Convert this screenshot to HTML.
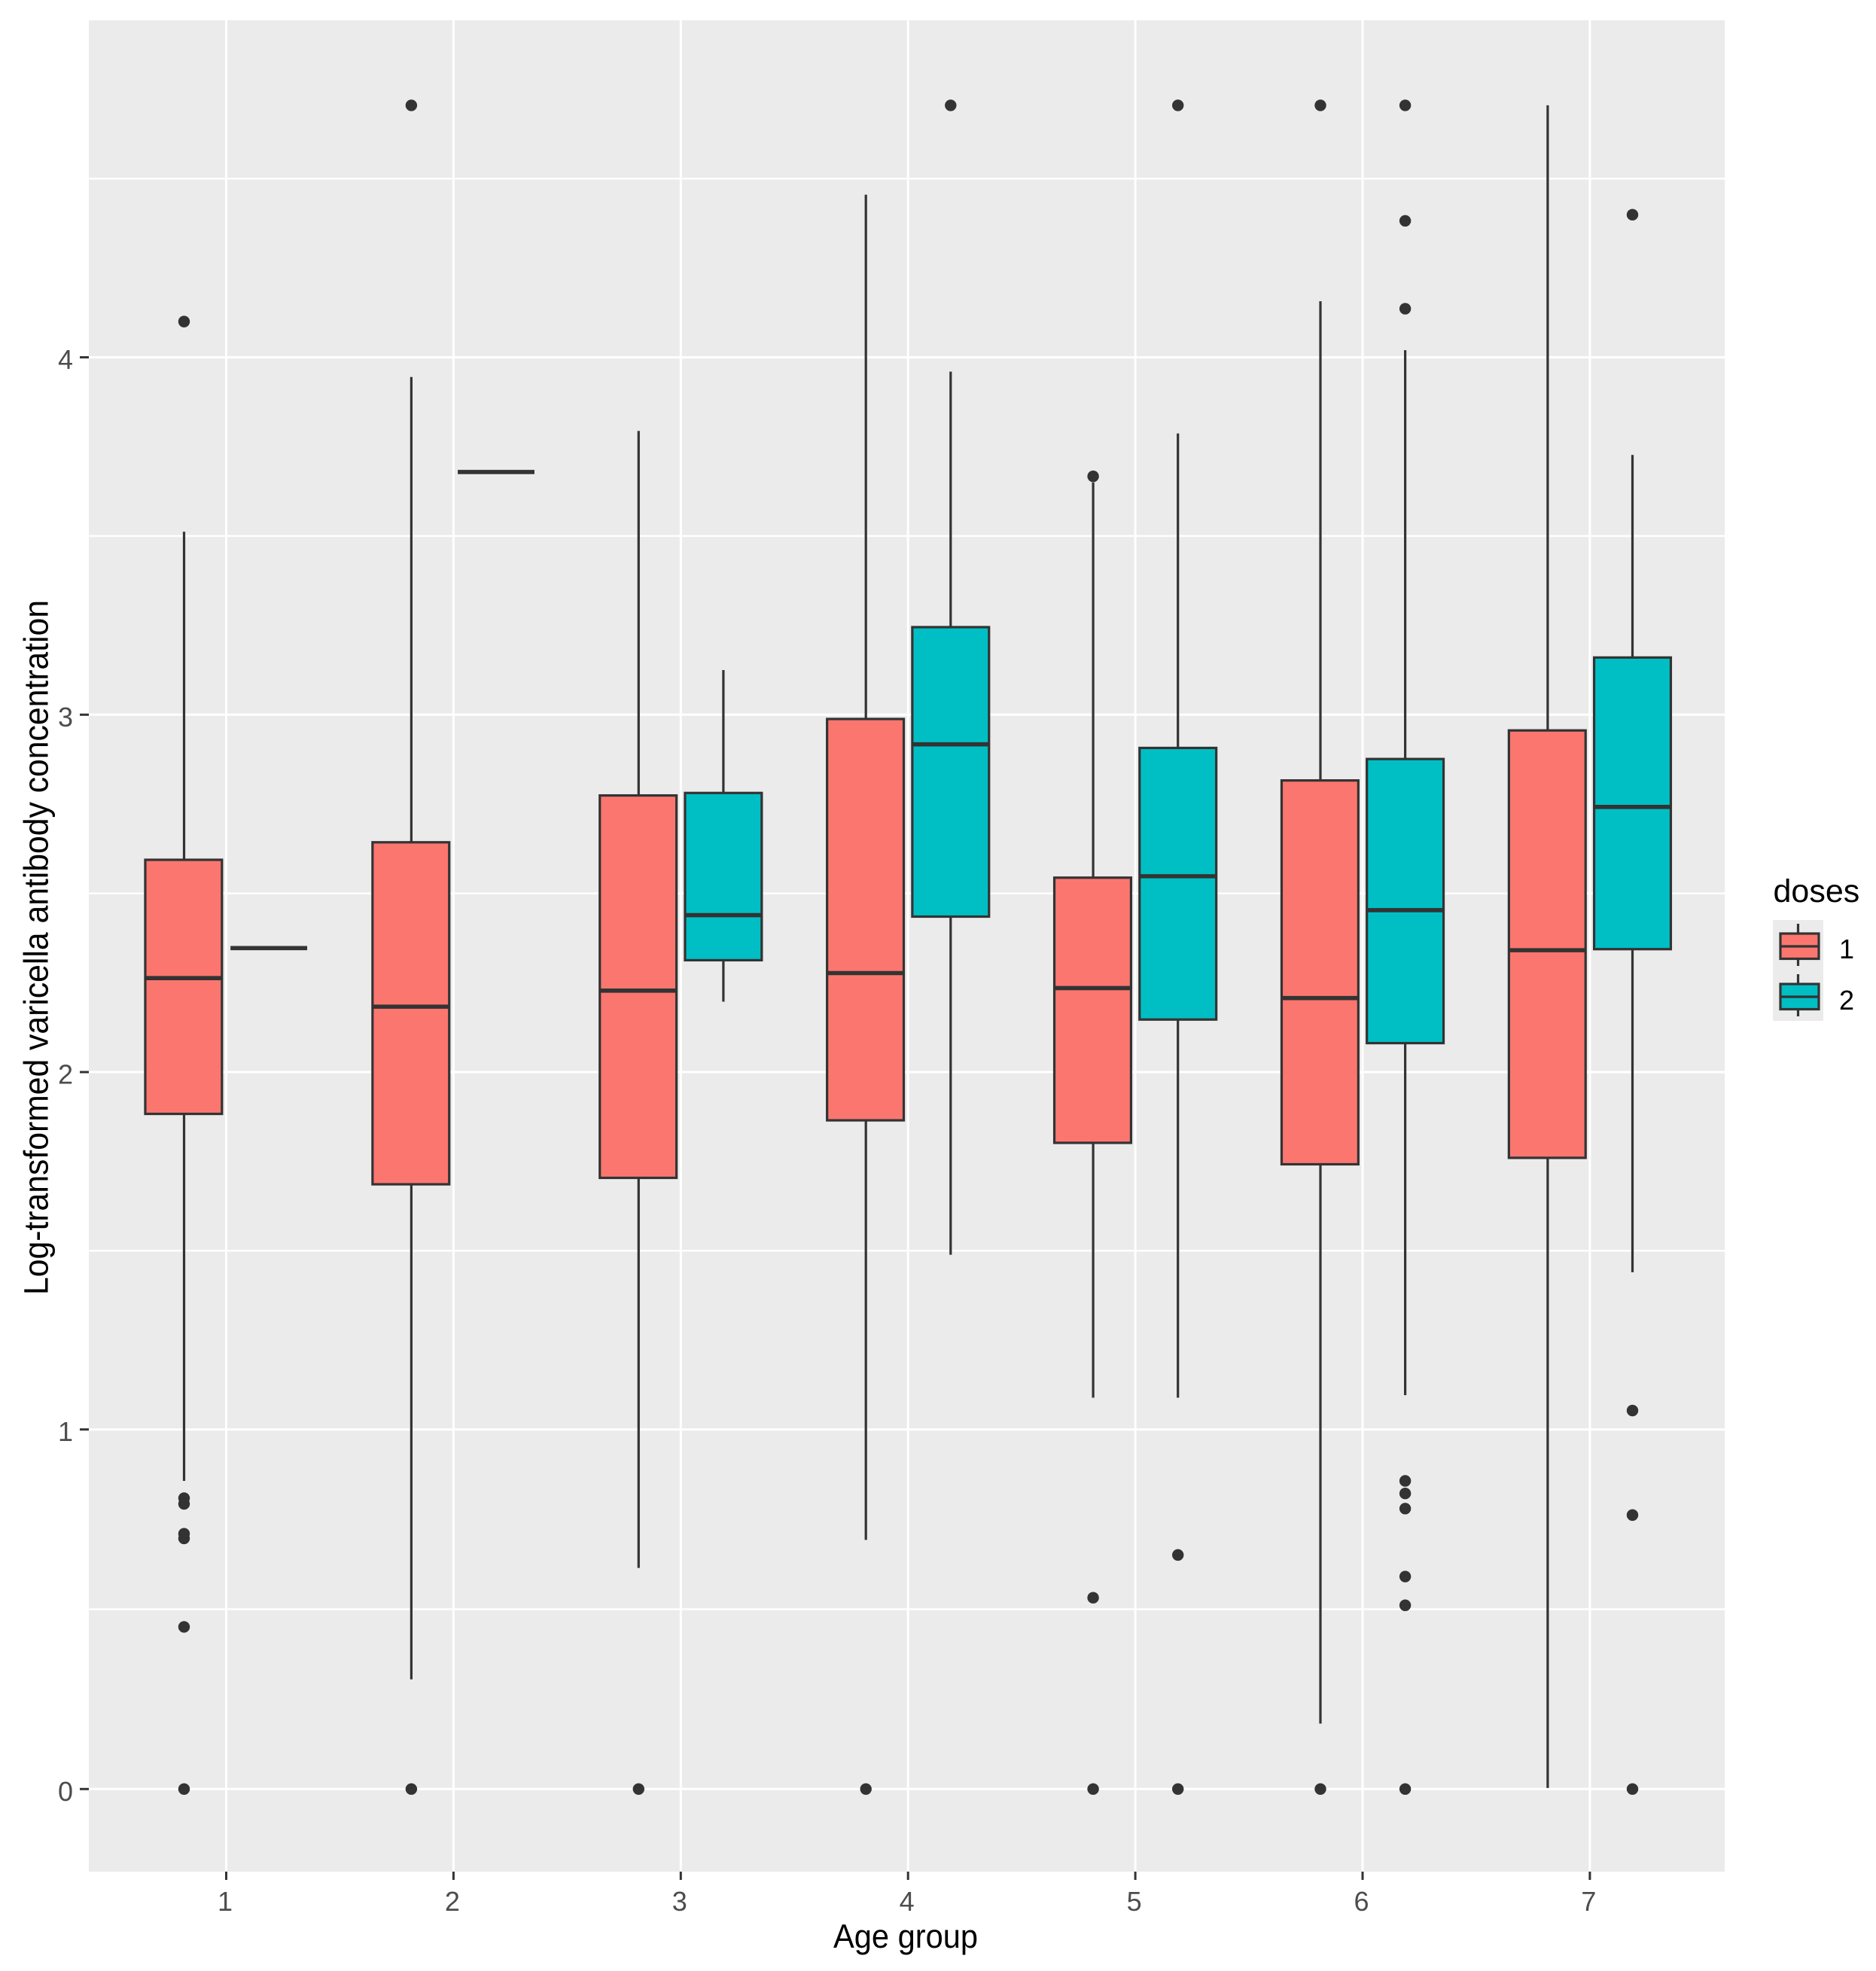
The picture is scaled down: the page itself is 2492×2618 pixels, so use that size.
<!DOCTYPE html>
<html lang="en">
<head>
<meta charset="utf-8">
<title>Log-transformed varicella antibody concentration by age group</title>
<style>
html,body{margin:0;padding:0;background:#fff;width:2492px;height:2618px;overflow:hidden}
svg{display:block;font-family:"Liberation Sans",Arial,sans-serif}
</style>
</head>
<body>
<svg id="chart" xmlns="http://www.w3.org/2000/svg" width="2492" height="2618" viewBox="0 0 2492 2618">
  <rect x="0" y="0" width="2492" height="2618" fill="#ffffff"/>
  <rect x="118" y="27" width="2173" height="2459" fill="#EBEBEB"/>
  <g id="grid"></g>
  <g id="marks"></g>
  <g id="axes"></g>
  <text transform="translate(1203,2587) scale(1,1.07)" font-size="41.6" fill="#000" text-anchor="middle">Age group</text>
  <text transform="translate(63.5,1258.5) rotate(-90) scale(1,1.07)" font-size="42.7" fill="#000" text-anchor="middle">Log-transformed varicella antibody concentration</text>
  <g>
    <text x="2355.5" y="1198" font-size="43" fill="#000">doses</text>
    <rect x="2355" y="1222" width="67" height="67" fill="#EBEBEB"/>
    <rect x="2355" y="1289" width="67" height="67" fill="#EBEBEB"/>
    <g stroke="#333333" stroke-width="3.2">
      <line x1="2388.5" x2="2388.5" y1="1227" y2="1240"/>
      <line x1="2388.5" x2="2388.5" y1="1274" y2="1283"/>
      <rect x="2365" y="1240" width="51" height="33.5" fill="#FB766F"/>
      <line x1="2365" x2="2416" y1="1257" y2="1257"/>
    </g>
    <g stroke="#333333" stroke-width="3.2">
      <line x1="2388.5" x2="2388.5" y1="1294" y2="1307"/>
      <line x1="2388.5" x2="2388.5" y1="1341" y2="1350"/>
      <rect x="2365" y="1307" width="51" height="33.5" fill="#00BFC4"/>
      <line x1="2365" x2="2416" y1="1324" y2="1324"/>
    </g>
    <text x="2453" y="1273" font-size="36" fill="#000" text-anchor="middle">1</text>
    <text x="2453" y="1341" font-size="36" fill="#000" text-anchor="middle">2</text>
  </g>
</svg>
<script>
// Chart data
const ageGroups = [1, 2, 3, 4, 5, 6, 7];
const yTickValues = [0, 1, 2, 3, 4];
const yMinorValues = [0.5, 1.5, 2.5, 3.5, 4.5];

const dose1WhiskerHigh = [3.512, 3.945, 3.794, 4.455, 3.650, 4.157, 4.705];
const dose1Q3 = [2.594, 2.643, 2.774, 2.988, 2.544, 2.816, 2.956];
const dose1Median = [2.263, 2.183, 2.228, 2.277, 2.235, 2.207, 2.341];
const dose1Q1 = [1.883, 1.686, 1.704, 1.865, 1.802, 1.742, 1.760];
const dose1WhiskerLow = [0.857, 0.305, 0.615, 0.693, 1.089, 0.182, 0.003];
const dose1Outliers = [
  [4.10, 0.809, 0.793, 0.710, 0.697, 0.451, 0],
  [4.705, 0],
  [0],
  [0],
  [3.667, 0.532, 0],
  [4.705, 0],
  []
];

const dose2WhiskerHigh = [null, null, 3.125, 3.960, 3.787, 4.020, 3.727];
const dose2Q3 = [null, null, 2.781, 3.245, 2.907, 2.876, 3.160];
const dose2Median = [2.347, 3.679, 2.439, 2.917, 2.548, 2.453, 2.742];
const dose2Q1 = [null, null, 2.313, 2.435, 2.147, 2.081, 2.344];
const dose2WhiskerLow = [null, null, 2.197, 1.489, 1.089, 1.096, 1.440];
const dose2Outliers = [
  [],
  [],
  [],
  [4.705],
  [4.705, 0.651, 0],
  [4.705, 4.382, 4.136, 0.857, 0.822, 0.780, 0.591, 0.511, 0],
  [4.399, 1.053, 0.762, 0]
];

// Axis functions (the reference's 0-1 interval is measurably a little taller)
function xScale(group) { return 300.5 + 301.9 * (group - 1); }
function yScale(value) {
  return value >= 1 ? 1898.7 - 474.7 * (value - 1) : 2376.3 - 477.6 * value;
}

const SVG_NS = 'http://www.w3.org/2000/svg';
const DODGE = 0.1875;
const BOX_HALF = 0.16875;
const INK = '#333333';
const PANEL_LEFT = 118, PANEL_RIGHT = 2291, PANEL_TOP = 27, PANEL_BOTTOM = 2486;

function make(tag, parent, props) {
  const node = document.createElementNS(SVG_NS, tag);
  for (const key in props) node.setAttribute(key, props[key]);
  parent.appendChild(node);
  return node;
}

const gridLayer = document.getElementById('grid');
const markLayer = document.getElementById('marks');
const axisLayer = document.getElementById('axes');

yMinorValues.forEach(function (v) {
  const el = make('line', gridLayer, { x1: PANEL_LEFT, x2: PANEL_RIGHT, y1: yScale(v), y2: yScale(v), stroke: '#fff', 'stroke-width': 2.4 });
  
  
});
yTickValues.forEach(function (v) {
  const el = make('line', gridLayer, { x1: PANEL_LEFT, x2: PANEL_RIGHT, y1: yScale(v), y2: yScale(v), stroke: '#fff', 'stroke-width': 3 });
  
  

  const tick = make('line', axisLayer, { x1: 106, x2: PANEL_LEFT, y1: yScale(v), y2: yScale(v), stroke: INK, 'stroke-width': 3 });
  
  

  const label = make('text', axisLayer, { x: 97, y: yScale(v) + 15.5, 'font-size': 36, fill: '#4D4D4D', 'text-anchor': 'end' });
  label.textContent = String(v);
  
  
});
ageGroups.forEach(function (g) {
  const el = make('line', gridLayer, { x1: xScale(g), x2: xScale(g), y1: PANEL_TOP, y2: PANEL_BOTTOM, stroke: '#fff', 'stroke-width': 3 });
  
  

  const tick = make('line', axisLayer, { x1: xScale(g), x2: xScale(g), y1: PANEL_BOTTOM, y2: 2497, stroke: INK, 'stroke-width': 3 });
  
  

  const label = make('text', axisLayer, { x: xScale(g) - 1.5, y: 2538, 'font-size': 36, fill: '#4D4D4D', 'text-anchor': 'middle' });
  label.textContent = String(g);
  
  
});

function drawSeries(i, group, sign, fill, wHigh, q3, med, q1, wLow, outliers) {
  const center = xScale(group + sign * DODGE);
  const cx = sign < 0 ? center + 0.6 : center;
  const left = xScale(group + sign * DODGE - BOX_HALF);
  const right = xScale(group + sign * DODGE + BOX_HALF);

  if (q3[i] !== null) {
    const upper = make('line', markLayer, { x1: cx, x2: cx, y1: yScale(wHigh[i]), y2: yScale(q3[i]), stroke: INK, 'stroke-width': 3.2 });
    
    

    const lower = make('line', markLayer, { x1: cx, x2: cx, y1: yScale(q1[i]), y2: yScale(wLow[i]), stroke: INK, 'stroke-width': 3.2 });
    
    

    const box = make('rect', markLayer, { x: left, y: yScale(q3[i]), width: right - left, height: yScale(q1[i]) - yScale(q3[i]), fill: fill, stroke: INK, 'stroke-width': 3.2 });
    
    
  }

  const median = make('line', markLayer, { x1: left, x2: right, y1: yScale(med[i]), y2: yScale(med[i]), stroke: INK, 'stroke-width': 5.6 });
  
  

  outliers[i].forEach(function (v) {
    const dot = make('circle', markLayer, { cx: cx, cy: yScale(v), r: 7.7, fill: INK });
    
    
  });
}

ageGroups.forEach(function (g, i) {
  drawSeries(i, g, -1, '#FB766F', dose1WhiskerHigh, dose1Q3, dose1Median, dose1Q1, dose1WhiskerLow, dose1Outliers);
  drawSeries(i, g, 1, '#00BFC4', dose2WhiskerHigh, dose2Q3, dose2Median, dose2Q1, dose2WhiskerLow, dose2Outliers);
});
</script>
</body>
</html>
